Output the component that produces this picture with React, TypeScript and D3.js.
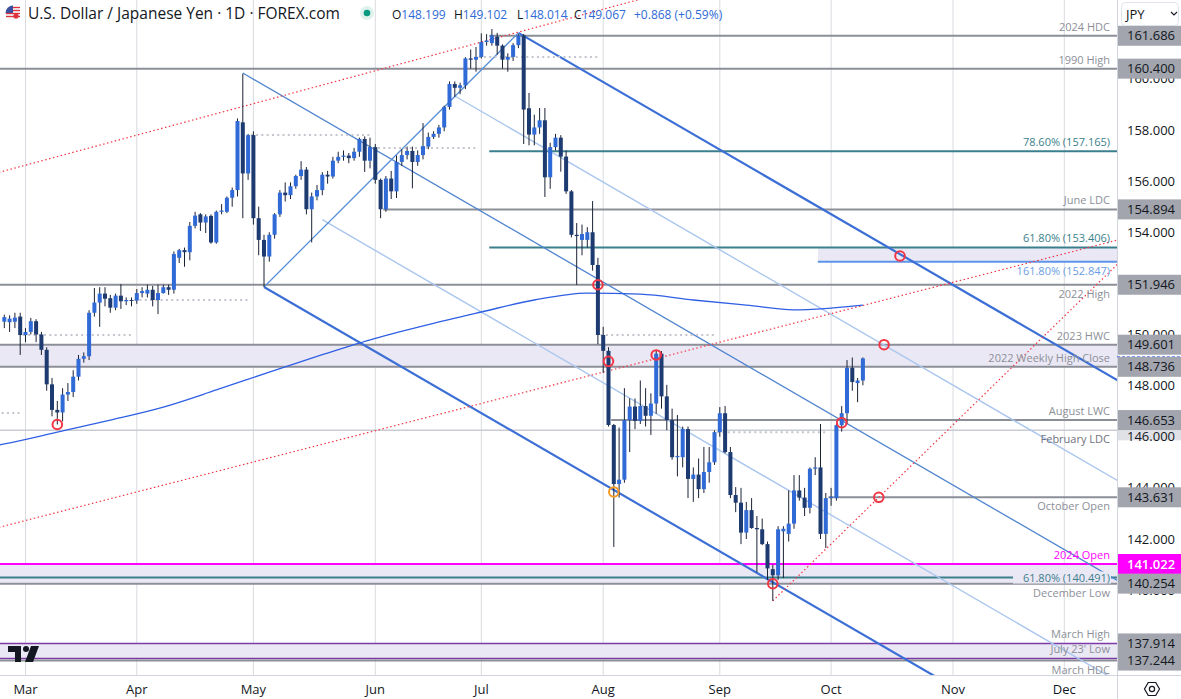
import React, { useRef, useEffect } from "react";
import * as d3 from "d3";

// daily candles: date, open, high, low, close
const candles: [string, number, number, number, number][] = [
  ["2024-02-26", 150.5, 150.78, 150.25, 150.68],
  ["2024-02-27", 150.48, 150.75, 150.1, 150.62],
  ["2024-02-28", 150.5, 150.85, 150.25, 150.66],
  ["2024-02-29", 150.7, 150.85, 149.2, 149.98],
  ["2024-03-01", 149.98, 150.25, 149.7, 150.1],
  ["2024-03-04", 150.1, 150.65, 150.0, 150.52],
  ["2024-03-05", 150.52, 150.6, 149.7, 150.0],
  ["2024-03-06", 150.0, 150.1, 149.2, 149.4],
  ["2024-03-07", 149.4, 149.5, 147.8, 148.05],
  ["2024-03-08", 148.05, 148.3, 146.8, 147.05],
  ["2024-03-11", 147.05, 147.4, 146.48, 146.95],
  ["2024-03-12", 146.95, 147.9, 146.6, 147.65],
  ["2024-03-13", 147.65, 148.1, 147.4, 147.75],
  ["2024-03-14", 147.75, 148.6, 147.55, 148.35],
  ["2024-03-15", 148.35, 149.2, 148.2, 149.05],
  ["2024-03-18", 149.05, 149.3, 148.9, 149.15],
  ["2024-03-19", 149.15, 150.95, 149.0, 150.85],
  ["2024-03-20", 150.85, 151.82, 150.7, 151.25],
  ["2024-03-21", 151.25, 151.85, 150.3, 151.6],
  ["2024-03-22", 151.6, 151.85, 151.1, 151.4],
  ["2024-03-25", 151.42, 151.55, 150.85, 151.05],
  ["2024-03-26", 151.05, 151.6, 150.95, 151.52],
  ["2024-03-27", 151.52, 151.97, 151.0, 151.3],
  ["2024-03-28", 151.3, 151.45, 151.15, 151.35],
  ["2024-03-29", 151.35, 151.45, 151.1, 151.33],
  ["2024-04-01", 151.33, 151.78, 151.2, 151.62],
  ["2024-04-02", 151.62, 151.85, 151.45, 151.7],
  ["2024-04-03", 151.6, 151.95, 151.45, 151.75],
  ["2024-04-04", 151.75, 151.9, 151.1, 151.35],
  ["2024-04-05", 151.35, 151.95, 150.8, 151.62],
  ["2024-04-08", 151.62, 151.95, 151.6, 151.85],
  ["2024-04-09", 151.85, 151.95, 151.55, 151.75],
  ["2024-04-10", 151.75, 153.25, 151.6, 153.15],
  ["2024-04-11", 153.0, 153.35, 152.8, 153.3],
  ["2024-04-12", 153.3, 153.4, 152.65, 153.22],
  ["2024-04-15", 153.22, 154.4, 152.9, 154.25],
  ["2024-04-16", 154.25, 154.8, 154.15, 154.65],
  ["2024-04-17", 154.7, 154.75, 154.05, 154.38],
  ["2024-04-18", 154.38, 154.7, 153.97, 154.62],
  ["2024-04-19", 154.64, 154.7, 153.55, 153.6],
  ["2024-04-22", 153.6, 154.85, 153.55, 154.8],
  ["2024-04-23", 154.8, 155.1, 154.7, 154.85],
  ["2024-04-24", 154.8, 155.4, 154.75, 155.35],
  ["2024-04-25", 155.35, 155.75, 155.0, 155.65],
  ["2024-04-26", 155.65, 158.45, 155.4, 158.35],
  ["2024-04-29", 158.3, 160.2, 154.55, 156.3],
  ["2024-04-30", 156.3, 157.85, 156.05, 157.8],
  ["2024-05-01", 157.8, 157.95, 154.3, 154.55],
  ["2024-05-02", 154.55, 155.0, 153.1, 153.7],
  ["2024-05-03", 153.7, 153.9, 151.86, 153.05],
  ["2024-05-06", 153.05, 154.0, 152.85, 153.9],
  ["2024-05-07", 153.9, 154.75, 153.75, 154.7],
  ["2024-05-08", 154.7, 155.65, 154.6, 155.55],
  ["2024-05-09", 155.55, 155.95, 155.2, 155.45],
  ["2024-05-10", 155.45, 155.95, 155.3, 155.8],
  ["2024-05-13", 155.8, 156.25, 155.7, 156.2],
  ["2024-05-14", 156.2, 156.78, 156.05, 156.45],
  ["2024-05-15", 156.45, 156.55, 154.7, 154.9],
  ["2024-05-16", 154.9, 155.55, 153.6, 155.4],
  ["2024-05-17", 155.4, 155.85, 155.25, 155.65],
  ["2024-05-20", 155.65, 156.35, 155.45, 156.25],
  ["2024-05-21", 156.25, 156.4, 155.9, 156.18],
  ["2024-05-22", 156.18, 156.95, 156.1, 156.8],
  ["2024-05-23", 156.8, 157.15, 156.7, 156.95],
  ["2024-05-24", 156.95, 157.2, 156.8, 157.0],
  ["2024-05-27", 157.0, 157.1, 156.7, 156.9],
  ["2024-05-28", 156.9, 157.3, 156.8, 157.15],
  ["2024-05-29", 157.15, 157.7, 156.95, 157.65],
  ["2024-05-30", 157.65, 157.75, 156.36, 156.8],
  ["2024-05-31", 156.8, 157.7, 156.5, 157.33],
  ["2024-06-03", 157.33, 157.45, 155.9, 156.05],
  ["2024-06-04", 156.05, 156.1, 154.55, 154.9],
  ["2024-06-05", 154.9, 156.2, 154.8, 156.1],
  ["2024-06-06", 156.1, 156.4, 155.3, 155.6],
  ["2024-06-07", 155.6, 157.0, 155.34, 156.75],
  ["2024-06-10", 156.75, 157.25, 156.6, 157.02],
  ["2024-06-11", 157.02, 157.35, 156.85, 157.18],
  ["2024-06-12", 157.18, 157.35, 155.72, 156.75],
  ["2024-06-13", 156.75, 157.2, 156.6, 157.02],
  ["2024-06-14", 157.02, 158.27, 156.85, 157.37],
  ["2024-06-17", 157.35, 157.9, 157.25, 157.73],
  ["2024-06-18", 157.73, 157.95, 157.65, 157.85],
  ["2024-06-19", 157.85, 158.2, 157.7, 158.1],
  ["2024-06-20", 158.1, 158.95, 157.95, 158.9],
  ["2024-06-21", 158.9, 159.9, 158.8, 159.8],
  ["2024-06-24", 159.8, 159.9, 159.3, 159.65],
  ["2024-06-25", 159.65, 159.85, 159.4, 159.75],
  ["2024-06-26", 159.75, 160.85, 159.6, 160.8],
  ["2024-06-27", 160.8, 161.15, 160.4, 160.75],
  ["2024-06-28", 160.75, 161.25, 160.28, 160.86],
  ["2024-07-01", 160.86, 161.78, 160.8, 161.44],
  ["2024-07-02", 161.44, 161.75, 161.3, 161.5],
  ["2024-07-03", 161.4, 161.95, 161.3, 161.7],
  ["2024-07-04", 161.65, 161.8, 160.95, 161.3],
  ["2024-07-05", 161.3, 161.35, 160.4, 160.75],
  ["2024-07-08", 160.75, 161.0, 160.28, 160.86],
  ["2024-07-09", 160.86, 161.4, 160.7, 161.32],
  ["2024-07-10", 161.32, 161.75, 161.2, 161.7],
  ["2024-07-11", 161.7, 161.75, 157.45, 158.8],
  ["2024-07-12", 158.85, 159.45, 157.4, 157.82],
  ["2024-07-15", 157.82, 158.6, 157.4, 158.1],
  ["2024-07-16", 158.1, 158.86, 157.85, 158.38],
  ["2024-07-17", 158.38, 158.86, 155.38, 156.15],
  ["2024-07-18", 156.15, 157.5, 155.7, 157.33],
  ["2024-07-19", 157.33, 157.85, 157.2, 157.7],
  ["2024-07-22", 157.7, 157.8, 156.37, 156.96],
  ["2024-07-23", 156.96, 157.2, 155.5, 155.6],
  ["2024-07-24", 155.6, 155.65, 153.8, 153.9],
  ["2024-07-25", 153.9, 154.36, 151.94, 153.85],
  ["2024-07-26", 153.7, 154.3, 153.1, 153.93],
  ["2024-07-29", 153.7, 154.2, 153.4, 154.0],
  ["2024-07-30", 154.0, 155.22, 152.5, 152.72],
  ["2024-07-31", 152.72, 153.0, 149.62, 149.98],
  ["2024-08-01", 149.98, 150.3, 148.5, 149.36],
  ["2024-08-02", 149.36, 149.5, 146.4, 146.46],
  ["2024-08-05", 146.46, 146.5, 141.69, 144.15],
  ["2024-08-06", 144.15, 146.36, 143.62, 144.32],
  ["2024-08-07", 144.32, 147.9, 144.2, 146.65],
  ["2024-08-08", 146.65, 147.5, 145.4, 147.18],
  ["2024-08-09", 147.18, 147.5, 146.3, 146.62],
  ["2024-08-12", 146.62, 148.2, 146.5, 147.2],
  ["2024-08-13", 147.2, 147.9, 146.4, 146.82],
  ["2024-08-14", 146.82, 147.7, 146.07, 147.3],
  ["2024-08-15", 147.3, 149.4, 146.9, 149.25],
  ["2024-08-16", 149.25, 149.35, 147.1, 147.58],
  ["2024-08-19", 147.58, 148.03, 146.26, 146.65],
  ["2024-08-20", 146.65, 147.1, 145.1, 145.2],
  ["2024-08-21", 145.2, 146.85, 144.45, 145.25],
  ["2024-08-22", 145.2, 146.4, 144.8, 146.3],
  ["2024-08-23", 146.3, 146.4, 143.6, 144.35],
  ["2024-08-26", 144.35, 144.8, 143.45, 144.52],
  ["2024-08-27", 144.52, 145.15, 143.6, 143.95],
  ["2024-08-28", 143.95, 145.6, 143.8, 144.62],
  ["2024-08-29", 144.62, 145.6, 144.2, 145.0],
  ["2024-08-30", 145.0, 146.25, 144.9, 146.18],
  ["2024-09-02", 146.18, 147.16, 146.0, 146.92],
  ["2024-09-03", 146.92, 147.2, 145.35, 145.4],
  ["2024-09-04", 145.4, 145.6, 143.6, 143.72],
  ["2024-09-05", 143.72, 144.03, 143.05, 143.42],
  ["2024-09-06", 143.42, 144.0, 141.8, 142.25],
  ["2024-09-09", 142.25, 143.45, 142.0, 143.13],
  ["2024-09-10", 143.13, 143.6, 142.4, 142.43],
  ["2024-09-11", 142.43, 142.9, 140.7, 142.38],
  ["2024-09-12", 142.38, 142.8, 141.76, 141.8],
  ["2024-09-13", 141.8, 141.9, 140.4, 140.85],
  ["2024-09-16", 140.82, 141.0, 139.58, 140.58],
  ["2024-09-17", 140.58, 142.5, 140.4, 142.38],
  ["2024-09-18", 142.3, 142.5, 140.47, 142.4],
  ["2024-09-19", 142.2, 143.9, 141.9, 142.6],
  ["2024-09-20", 142.6, 144.5, 142.4, 143.9],
  ["2024-09-23", 143.9, 144.5, 143.5, 143.62],
  ["2024-09-24", 143.62, 144.0, 142.9, 143.22],
  ["2024-09-25", 143.22, 144.8, 143.0, 144.75],
  ["2024-09-26", 144.75, 145.2, 144.5, 144.8],
  ["2024-09-27", 144.8, 146.5, 142.0, 142.2],
  ["2024-09-30", 142.2, 143.8, 141.65, 143.6],
  ["2024-10-01", 143.6, 144.0, 143.3, 143.65],
  ["2024-10-02", 143.6, 146.5, 143.5, 146.45],
  ["2024-10-03", 146.45, 147.2, 146.2, 146.92],
  ["2024-10-04", 146.92, 149.0, 146.5, 148.7],
  ["2024-10-07", 148.7, 149.1, 147.8, 148.14],
  ["2024-10-08", 148.1, 148.3, 147.35, 148.2],
  ["2024-10-09", 148.199, 149.102, 148.014, 149.067],
];

// 200-day simple moving average
const smaDates = ["2024-02-23", "2024-02-26", "2024-03-11", "2024-03-25", "2024-04-08", "2024-04-22", "2024-05-06", "2024-05-20", "2024-06-03", "2024-06-17", "2024-07-01", "2024-07-15", "2024-07-29", "2024-08-12", "2024-08-26", "2024-09-09", "2024-09-23", "2024-10-07", "2024-10-09"];
const smaValues = [145.68, 145.72, 146.18, 146.65, 147.16, 147.83, 148.53, 149.21, 149.85, 150.39, 150.88, 151.35, 151.62, 151.58, 151.35, 151.15, 150.96, 151.11, 151.15];

// month axis: first trading day, label
const monthTicks: [string, string][] = [
  ["2024-03-01", "Mar"], ["2024-04-01", "Apr"], ["2024-05-01", "May"], ["2024-06-03", "Jun"],
  ["2024-07-01", "Jul"], ["2024-08-01", "Aug"], ["2024-09-02", "Sep"], ["2024-10-01", "Oct"],
  ["2024-11-01", "Nov"], ["2024-12-02", "Dec"],
];
// price ticks that peek out from behind the level boxes
const priceTicks = [140, 142, 144, 146, 148, 150, 154, 156, 158, 160];

// horizontal levels: price, label, kind, start date (null = full width), label side
const levels: [number, string, string, string | null, string][] = [
  [161.686, "2024 HDC", "gray", "2024-07-03", "above"],
  [160.4, "1990 High", "gray", null, "above"],
  [157.165, "78.60% (157.165)", "fib", "2024-07-03", "above"],
  [154.894, "June LDC", "gray", "2024-06-05", "above"],
  [153.406, "61.80% (153.406)", "fib", "2024-07-03", "above"],
  [152.847, "161.80% (152.847)", "ext", "2024-09-27", "below"],
  [151.946, "2022 High", "gray", null, "below"],
  [149.601, "2023 HWC", "gray", null, "above"],
  [148.736, "2022 Weekly High Close", "gray", null, "above"],
  [146.653, "August LWC", "gray", "2024-08-05", "above"],
  [146.25, "February LDC", "light", null, "below"],
  [143.631, "October Open", "gray", "2024-10-01", "below"],
  [141.022, "2024 Open", "magenta", null, "above"],
  [140.491, "61.80% (140.491)", "fib", null, "inline"],
  [140.254, "December Low", "gray", null, "below"],
  [137.914, "March High", "purple", null, "above"],
  [137.33, "July 23' Low", "purple", null, "above"],
  [137.244, "March HDC", "gray", null, "below"],
];

// shaded zones: top, bottom, start date
const zones: [number, number, string | null][] = [
  [153.406, 152.847, "2024-09-27"],
  [149.601, 148.736, null],
  [141.022, 140.254, null],
  [137.914, 137.33, null],
];

// pitchfork lines: name, date A, price A, date B, price B
const forkLines: [string, string, number, string, number][] = [
  ["upper", "2024-07-10", 161.8, "2024-11-01", 151.94],
  ["median", "2024-04-29", 160.23, "2024-11-01", 144.11],
  ["lower", "2024-05-03", 151.86, "2024-11-01", 136.22],
  ["quarterUp", "2024-06-24", 159.33, "2024-11-01", 148.02],
  ["quarterDown", "2024-05-20", 154.49, "2024-11-01", 140.17],
];
const forkHandle: [string, number, string, number] = ["2024-05-03", 151.86, "2024-07-10", 161.8];

// red dotted trendlines: date A, price A, date B, price B, extend left
const dottedTrends: [string, number, string, number, boolean][] = [
  ["2024-02-26", 156.4, "2024-07-10", 161.83, true],
  ["2024-02-26", 142.51, "2024-08-15", 149.06, true],
  ["2024-09-16", 139.58, "2024-10-14", 143.63, false],
];

// prior month close markers: from, to, price
const monthCloses: [string, string, number][] = [
  ["2024-02-26", "2024-02-29", 146.93],
  ["2024-03-01", "2024-03-29", 149.98],
  ["2024-04-01", "2024-04-30", 151.35],
  ["2024-05-01", "2024-05-31", 157.8],
  ["2024-06-03", "2024-06-28", 157.3],
  ["2024-07-01", "2024-07-31", 160.86],
  ["2024-08-01", "2024-08-30", 149.98],
  ["2024-09-02", "2024-09-30", 146.18],
];

// highlighted touches: date, price, colour
const touches: [string, number, string][] = [
  ["2024-03-11", 146.48, "#f23645"],
  ["2024-07-31", 151.946, "#f23645"],
  ["2024-08-02", 148.95, "#f23645"],
  ["2024-08-15", 149.2, "#f23645"],
  ["2024-08-05", 143.84, "#f59a23"],
  ["2024-09-16", 140.25, "#f23645"],
  ["2024-10-03", 146.55, "#f23645"],
  ["2024-10-14", 143.631, "#f23645"],
  ["2024-10-15", 149.6, "#f23645"],
  ["2024-10-18", 153.07, "#f23645"],
];

// right axis price boxes
const priceBoxes: [number, string][] = [
  [161.686, "gray"], [160.4, "gray"], [154.894, "gray"], [151.946, "gray"],
  [149.601, "gray"], [148.736, "gray"], [146.653, "gray"], [143.631, "gray"],
  [141.022, "magenta"], [140.254, "gray"], [137.914, "gray"], [137.244, "gray"],
];

// legend: last bar values
const legendKeys = ["O", "H", "L", "C"];
const legendValues = ["148.199", "149.102", "148.014", "149.067"];
const legendChange = "+0.868 (+0.59%)";

const W = 1181;
const H = 699;
const PR = 1117;
const PB = 675;
const STEP = 5.3;

const levelColor: Record<string, string> = {
  gray: "#8c8f98",
  fib: "#3b7f8c",
  ext: "#5c95e8",
  light: "#c9ccd4",
  magenta: "#ff00ff",
  purple: "#7b3aa6",
};
const labelColor: Record<string, string> = {
  gray: "#8c8f98",
  fib: "#3b7f8c",
  ext: "#6a9de6",
  light: "#6f727c",
  magenta: "#ff00ff",
  purple: "#8c8f98",
};

const base = Date.UTC(2024, 2, 1);
function bizIndex(s: string) {
  const t = Date.parse(s + "T00:00:00Z");
  const stepDir = t >= base ? 1 : -1;
  const cur = new Date(base);
  let n = 0;
  while (cur.getTime() !== t) {
    cur.setUTCDate(cur.getUTCDate() + stepDir);
    const wd = cur.getUTCDay();
    if (wd !== 0 && wd !== 6) n += stepDir;
  }
  return n;
}

const App: React.FC = () => {
  const svgRef = useRef<SVGSVGElement>(null);

  useEffect(() => {
    const svg = d3.select(svgRef.current);
    svg.selectAll("*").remove();

    const x = d3.scaleLinear().domain([0, 196]).range([25.5, 25.5 + 196 * STEP]);
    const y = d3.scaleLinear().domain([142, 158]).range([539, 130]);
    const xd = (s: string) => x(bizIndex(s));
    const font = "'Open Sans', 'DejaVu Sans', sans-serif";
    svg.attr("font-family", font);

    svg.append("rect").attr("width", W).attr("height", H).attr("fill", "#ffffff");

    svg.append("defs").append("clipPath").attr("id", "plotClip")
      .append("rect").attr("x", 0).attr("y", 0).attr("width", PR).attr("height", PB);

    const plot = svg.append("g").attr("clip-path", "url(#plotClip)");

    // month grid
    plot.selectAll("line.grid").data(monthTicks).enter().append("line")
      .attr("x1", (d) => xd(d[0])).attr("x2", (d) => xd(d[0]))
      .attr("y1", 0).attr("y2", PB)
      .attr("stroke", "#d9dbe0").attr("stroke-width", 1);

    // zones
    plot.selectAll("rect.zone").data(zones).enter().append("rect")
      .attr("x", (d) => (d[2] ? xd(d[2]) - STEP / 2 : 0))
      .attr("width", (d) => PR - (d[2] ? xd(d[2]) - STEP / 2 : 0))
      .attr("y", (d) => y(d[0]))
      .attr("height", (d) => y(d[1]) - y(d[0]))
      .attr("fill", "#ebe8f5");

    // level lines
    plot.selectAll("line.level").data(levels).enter().append("line")
      .attr("x1", (d) => (d[3] ? xd(d[3]) - STEP / 2 : 0))
      .attr("x2", PR)
      .attr("y1", (d) => y(d[0])).attr("y2", (d) => y(d[0]))
      .attr("stroke", (d) => levelColor[d[2]])
      .attr("stroke-width", (d) => (d[2] === "purple" || d[2] === "light" ? 1.5 : 2));

    // extend a line through two anchors
    const lineAt = (iA: number, pA: number, iB: number, pB: number, i: number) =>
      pA + ((pB - pA) / (iB - iA)) * (i - iA);
    const iRight = x.invert(PR + 5);
    const iLeft = x.invert(-5);

    const forkStyle: Record<string, [string, number]> = {
      upper: ["#3c6fd6", 2.2],
      lower: ["#3c6fd6", 2.2],
      median: ["#4f84cf", 1.3],
      quarterUp: ["#aac6ee", 1.4],
      quarterDown: ["#aac6ee", 1.4],
    };
    forkLines.forEach(([name, dA, pA, dB, pB]) => {
      const iA = bizIndex(dA);
      const iB = bizIndex(dB);
      plot.append("line")
        .attr("x1", x(iA)).attr("y1", y(pA))
        .attr("x2", x(iRight)).attr("y2", y(lineAt(iA, pA, iB, pB, iRight)))
        .attr("stroke", forkStyle[name][0]).attr("stroke-width", forkStyle[name][1]);
    });
    plot.append("line")
      .attr("x1", xd(forkHandle[0])).attr("y1", y(forkHandle[1]))
      .attr("x2", xd(forkHandle[2])).attr("y2", y(forkHandle[3]))
      .attr("stroke", "#5a8fd6").attr("stroke-width", 1.3);

    dottedTrends.forEach(([dA, pA, dB, pB, extLeft]) => {
      const iA = bizIndex(dA);
      const iB = bizIndex(dB);
      const i0 = extLeft ? iLeft : iA;
      plot.append("line")
        .attr("x1", x(i0)).attr("y1", y(lineAt(iA, pA, iB, pB, i0)))
        .attr("x2", x(iRight)).attr("y2", y(lineAt(iA, pA, iB, pB, iRight)))
        .attr("stroke", "#f23645").attr("stroke-width", 1.2)
        .attr("stroke-dasharray", "1.5 2.5");
    });

    // 200 SMA
    const sma = smaDates.map((d, k) => [bizIndex(d), smaValues[k]] as [number, number]);
    plot.append("path")
      .datum(sma)
      .attr("d", d3.line<[number, number]>().x((d) => x(d[0])).y((d) => y(d[1])).curve(d3.curveMonotoneX))
      .attr("fill", "none").attr("stroke", "#2f5fe3").attr("stroke-width", 1.3);

    // prior month closes
    plot.selectAll("line.mclose").data(monthCloses).enter().append("line")
      .attr("x1", (d) => xd(d[0]) - STEP / 2).attr("x2", (d) => xd(d[1]) + STEP / 2)
      .attr("y1", (d) => y(d[2])).attr("y2", (d) => y(d[2]))
      .attr("stroke", "#c3c6ce").attr("stroke-width", 2)
      .attr("stroke-dasharray", "2 3.3");

    // candles
    const cg = plot.append("g");
    const c = cg.selectAll("g").data(candles).enter().append("g");
    c.append("line")
      .attr("x1", (d) => xd(d[0])).attr("x2", (d) => xd(d[0]))
      .attr("y1", (d) => y(d[2])).attr("y2", (d) => y(d[3]))
      .attr("stroke", "#1b2233").attr("stroke-width", 1);
    c.append("rect")
      .attr("x", (d) => xd(d[0]) - 2)
      .attr("width", 4)
      .attr("y", (d) => y(Math.max(d[1], d[4])))
      .attr("height", (d) => Math.max(1, Math.abs(y(d[1]) - y(d[4]))))
      .attr("fill", (d) => (d[4] >= d[1] ? "#2f6ad6" : "#1d3b70"));

    // touch circles
    plot.selectAll("circle.touch").data(touches).enter().append("circle")
      .attr("cx", (d) => xd(d[0])).attr("cy", (d) => y(d[1]))
      .attr("r", 4.8).attr("fill", "none")
      .attr("stroke", (d) => d[2]).attr("stroke-width", 2);

    // level labels
    levels.forEach(([p, text, kind, , side]) => {
      const yy = y(p);
      const ty = side === "above" ? yy - 5 : side === "below" ? yy + 13 : yy + 4;
      if (side === "inline") {
        // gap in the line behind the inline label
        plot.append("rect")
          .attr("x", 1013).attr("y", yy - 6)
          .attr("width", 98).attr("height", 12)
          .attr("fill", "#ebe8f5");
      }
      plot.append("text")
        .attr("x", 1110).attr("y", ty)
        .attr("text-anchor", "end")
        .attr("font-size", 11)
        .attr("fill", labelColor[kind])
        .text(text);
    });

    // bottom axis
    svg.append("rect").attr("x", 0).attr("y", PB).attr("width", W).attr("height", H - PB).attr("fill", "#ffffff");
    svg.append("line").attr("x1", 0).attr("x2", PR).attr("y1", PB + 0.5).attr("y2", PB + 0.5)
      .attr("stroke", "#d1d4dc");
    svg.selectAll("text.month").data(monthTicks).enter().append("text")
      .attr("x", (d) => xd(d[0])).attr("y", 694)
      .attr("text-anchor", "middle").attr("font-size", 13).attr("fill", "#131722")
      .text((d) => d[1]);

    // right axis
    svg.append("rect").attr("x", PR).attr("y", 0).attr("width", W - PR).attr("height", H).attr("fill", "#ffffff");
    svg.append("line").attr("x1", PR + 0.5).attr("x2", PR + 0.5).attr("y1", 0).attr("y2", H)
      .attr("stroke", "#d1d4dc");
    svg.append("line").attr("x1", PR).attr("x2", W).attr("y1", PB + 0.5).attr("y2", PB + 0.5)
      .attr("stroke", "#d1d4dc");

    // Feb LDC faint box
    svg.append("rect").attr("x", PR + 1).attr("y", y(146.25) - 10).attr("width", W - PR - 1).attr("height", 20)
      .attr("fill", "#dfe1e6");

    svg.selectAll("text.ptick").data(priceTicks).enter().append("text")
      .attr("x", PR + 10).attr("y", (d) => y(d) + 4.5)
      .attr("font-size", 13).attr("fill", "#131722")
      .text((d) => d.toFixed(3));

    // last price line on axis
    svg.append("line").attr("x1", PR).attr("x2", W).attr("y1", y(149.067) - 1.5).attr("y2", y(149.067) - 1.5)
      .attr("stroke", "#2962ff").attr("stroke-width", 1).attr("stroke-dasharray", "3 2");

    const boxes = svg.selectAll("g.pbox").data(priceBoxes).enter().append("g");
    boxes.append("rect")
      .attr("x", PR + 1).attr("y", (d) => y(d[0]) - 10)
      .attr("width", W - PR - 1).attr("height", 20)
      .attr("fill", (d) => (d[1] === "magenta" ? "#ff00ff" : "#a2a5ad"));
    boxes.append("text")
      .attr("x", PR + 10).attr("y", (d) => y(d[0]) + 4.5)
      .attr("font-size", 13)
      .attr("font-weight", (d) => (d[1] === "magenta" ? 600 : 400))
      .attr("fill", (d) => (d[1] === "magenta" ? "#ffffff" : "#131722"))
      .text((d) => d[0].toFixed(3));

    // currency dropdown
    svg.append("rect").attr("x", 1121.5).attr("y", 2.5).attr("width", 57).attr("height", 23)
      .attr("rx", 4).attr("fill", "#ffffff").attr("stroke", "#e0e3eb");
    svg.append("text").attr("x", 1126).attr("y", 19).attr("font-size", 13).attr("fill", "#131722").text("JPY");
    svg.append("path").attr("d", "M1171,12 l3,3 l3,-3").attr("fill", "none")
      .attr("stroke", "#131722").attr("stroke-width", 1.1);

    // settings icon
    const hex = d3.range(6).map((k) => {
      const a = (Math.PI / 3) * k;
      return [1152 + 7.5 * Math.cos(a), 689 + 7.5 * Math.sin(a)] as [number, number];
    });
    svg.append("polygon").attr("points", hex.map((p) => p.join(",")).join(" "))
      .attr("fill", "none").attr("stroke", "#131722").attr("stroke-width", 1.2);
    svg.append("circle").attr("cx", 1152).attr("cy", 689).attr("r", 2.6)
      .attr("fill", "none").attr("stroke", "#131722").attr("stroke-width", 1.2);

    // logo
    const logo = svg.append("g").attr("fill", "#131722");
    logo.append("path").attr("d", "M8,646 H21 V662 H15 V652 H8 Z");
    logo.append("circle").attr("cx", 26).attr("cy", 649).attr("r", 3);
    logo.append("path").attr("d", "M31,646 H39 L33,662 H25 Z");

    // header
    const hdr = svg.append("g");
    hdr.append("circle").attr("cx", 13).attr("cy", 13).attr("r", 7.5).attr("fill", "#f4f4f6");
    hdr.append("path").attr("d", "M13,5.5 A7.5,7.5 0 0 0 5.5,13 H13 Z").attr("fill", "#3a4fa0");
    [7.5, 10.5, 13.5, 16.5].forEach((yy) =>
      hdr.append("line").attr("x1", yy < 13 ? 13 : 6).attr("x2", 20).attr("y1", yy).attr("y2", yy)
        .attr("stroke", "#e0323c").attr("stroke-width", 1.3));
    hdr.append("circle").attr("cx", 16).attr("cy", 16).attr("r", 2.6).attr("fill", "#e0323c");
    hdr.append("text").attr("x", 28).attr("y", 19).attr("font-size", 15.5).attr("fill", "#131722")
      .text("U.S. Dollar / Japanese Yen · 1D · FOREX.com");
    hdr.append("circle").attr("cx", 367).attr("cy", 13).attr("r", 7).attr("fill", "#dff1ec");
    hdr.append("circle").attr("cx", 367).attr("cy", 13).attr("r", 3.3).attr("fill", "#089981");

    // legend groups, one text per key/value pair
    const legendX = [392, 454, 517, 574];
    legendKeys.forEach((k, idx) => {
      const t = hdr.append("text").attr("x", legendX[idx]).attr("y", 19).attr("font-size", 12);
      t.append("tspan").attr("fill", "#131722").text(k);
      t.append("tspan").attr("fill", "#2f6ad6").text(legendValues[idx]);
    });
    hdr.append("text").attr("x", 634).attr("y", 19).attr("font-size", 12)
      .attr("fill", "#2f6ad6").text(legendChange);
  }, []);

  return (
    <svg
      ref={svgRef}
      width={W}
      height={H}
      style={{ position: "absolute", left: 0, top: 0, display: "block" }}
    ></svg>
  );
};

export default App;
